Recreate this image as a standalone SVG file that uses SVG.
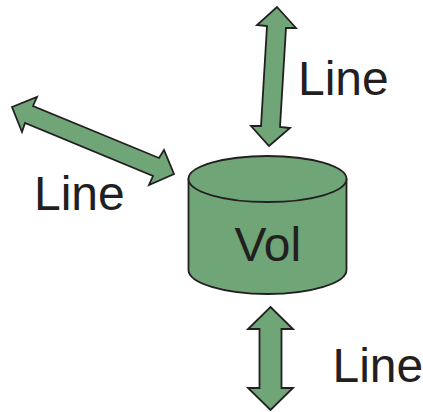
<svg xmlns="http://www.w3.org/2000/svg" width="423" height="412" viewBox="0 0 423 412">
<style>
.s{fill:#6fa577;stroke:#231f20;stroke-width:1.8;stroke-linejoin:miter}
text{font-family:"Liberation Sans",Arial,sans-serif;font-size:48px;fill:#231f20}
</style>
<rect width="423" height="412" fill="#fff"/>
<g id="connectors">
<polygon class="s" points="12,107 37,97 33,106 159,158 164,150 174,174 149,185 153,176 25,123 22,132"/>
<polygon class="s" points="277,7 296,28 286,28 280,127 290,128 269,146 251,126 261,126 267,26 257,25"/>
<polygon class="s" points="270.5,307 293,329 281.5,329 281.5,388 293,388 270.5,410 248,388 259.5,388 259.5,329 248,329"/>
</g>
<g id="vol">
<path class="s" d="M188.5,179 V270 C188.5,283 224,294 267.5,294 S346.5,283 346.5,270 V179 Z"/>
<ellipse class="s" cx="267.5" cy="179" rx="79" ry="23"/>
<text x="234.5" y="261">Vol</text>
</g>
<text id="label-left" x="34" y="210">Line</text>
<text id="label-top" x="298" y="95">Line</text>
<text id="label-bottom" x="332.5" y="382">Line</text>
</svg>
